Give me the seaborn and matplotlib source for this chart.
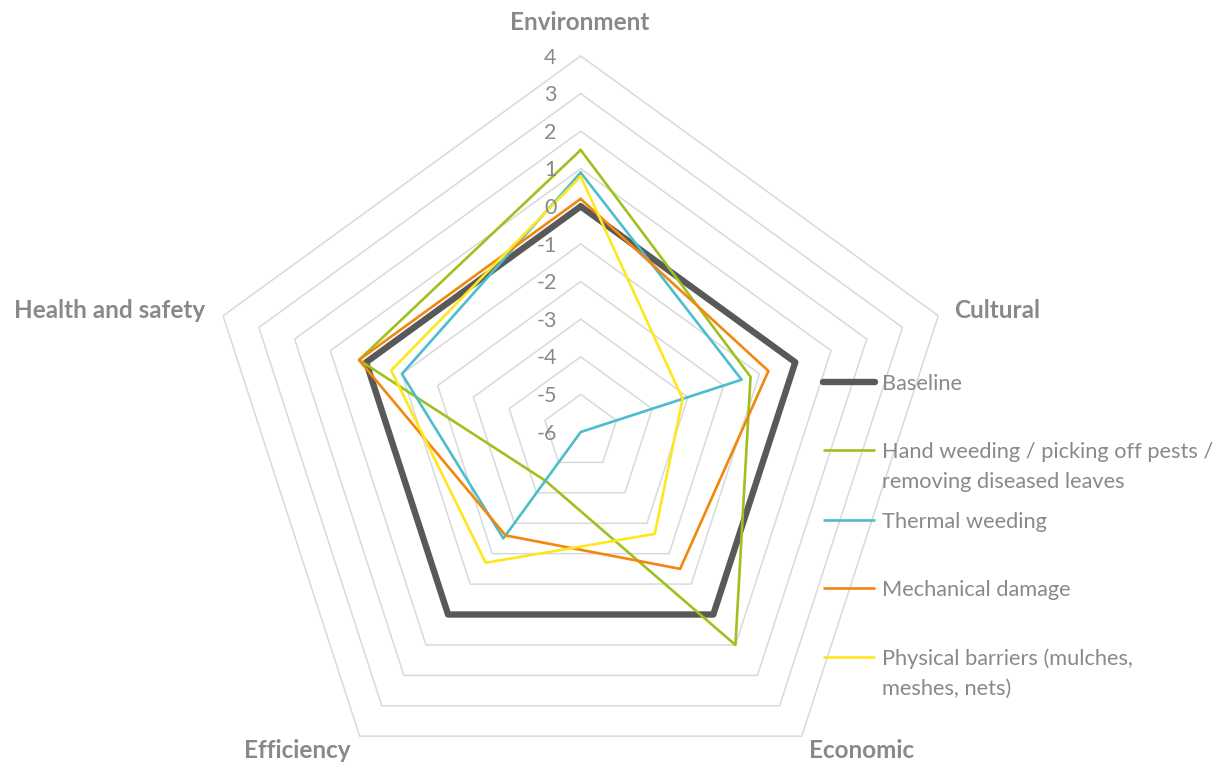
import numpy as np
import pandas as pd
import matplotlib
matplotlib.use("Agg")
import matplotlib.pyplot as plt
import matplotlib.transforms as mtransforms
from matplotlib.lines import Line2D
import seaborn as sns

# ---- data -------------------------------------------------------------
categories = ["Environment", "Cultural", "Economic", "Efficiency", "Health and safety"]
baseline = [0.0, 0.0, 0.0, 0.0, 0.0]
hand_weeding = [1.5, -1.25, 1.0, -4.4, 0.2]
thermal_weeding = [0.9, -1.5, -6.0, -2.5, -1.0]
mechanical_damage = [0.2, -0.75, -1.5, -2.6, 0.2]
physical_barriers = [0.8, -3.15, -2.65, -1.7, -0.7]

series_names = [
    "Baseline",
    "Hand weeding / picking off pests /\nremoving diseased leaves",
    "Thermal weeding",
    "Mechanical damage",
    "Physical barriers (mulches,\nmeshes, nets)",
]
series_values = [baseline, hand_weeding, thermal_weeding, mechanical_damage, physical_barriers]
series_colors = ["#595959", "#9DC21E", "#4DBDCC", "#F2870C", "#FFE61E"]
series_widths = [4.6, 1.9, 1.9, 1.9, 1.9]

tick_values = [4, 3, 2, 1, 0, -1, -2, -3, -4, -5, -6]
r_min, r_max = -6, 4

# ---- figure -----------------------------------------------------------
sns.set_theme(style="white")
plt.rcParams["font.family"] = ["Lato", "DejaVu Sans"]
text_color = "#898989"

W, H = 1224, 762
fig = plt.figure(figsize=(W / 100, H / 100), dpi=100)
fig.patch.set_facecolor("white")

cx, cy, rad = 580.7, 330.0, 376.0  # centre (pixels from bottom-left) and radius
ax = fig.add_axes([(cx - rad) / W, (cy - rad) / H, 2 * rad / W, 2 * rad / H],
                  projection="polar")
ax.set_theta_offset(np.pi / 2)
ax.set_theta_direction(-1)
ax.set_ylim(r_min, r_max)
ax.grid(False)
ax.set_xticks([])
ax.set_yticks([])
ax.spines["polar"].set_visible(False)
ax.patch.set_alpha(0)

n = len(categories)
angles = np.linspace(0, 2 * np.pi, n, endpoint=False)
angles_closed = np.append(angles, angles[0] + 2 * np.pi)

# pentagon gridlines
for v in tick_values[:-1]:
    ax.plot(angles_closed, [v] * (n + 1), color="#D9D9D9", lw=1.1, zorder=1,
            solid_joinstyle="miter")

# series
for name, vals, col, lw in zip(series_names, series_values, series_colors, series_widths):
    df = pd.DataFrame({"angle": angles_closed, "value": list(vals) + [vals[0]]})
    sns.lineplot(data=df, x="angle", y="value", sort=False, estimator=None, ax=ax,
                 color=col, linewidth=lw, zorder=3)
for line in ax.lines:
    line.set_solid_joinstyle("round")
    line.set_clip_on(False)

ax.set_xlabel("")
ax.set_ylabel("")
ax.set_ylim(r_min, r_max)

# value labels along the Environment spoke
off = mtransforms.offset_copy(ax.transData, fig=fig, x=-24, y=-1.5, units="dots")
for v in tick_values:
    ax.text(0, v, str(v), transform=off, ha="right", va="center",
            fontsize=15.5, color=text_color)

# category labels
label_pos = {
    "Environment": (580, 22),
    "Cultural": (997, 310),
    "Economic": (862, 750),
    "Efficiency": (297, 750),
    "Health and safety": (110, 310),
}
for cat in categories:
    x, y = label_pos[cat]
    fig.text(x / W, 1 - y / H, cat, ha="center", va="center", fontsize=17.5,
             fontweight="bold", color=text_color)

# legend
legend_rows = [382, 450, 520, 588, 657]
line_gap = 30
x0, x1, xt = 823, 875, 882
for name, col, lw, yrow in zip(series_names, series_colors, series_widths, legend_rows):
    yy = 1 - yrow / H
    fig.add_artist(Line2D([x0 / W, x1 / W], [yy, yy], color=col, lw=lw,
                          solid_capstyle="round" if lw > 3 else "butt"))
    for i, part in enumerate(name.split("\n")):
        fig.text(xt / W, 1 - (yrow + i * line_gap) / H, part, ha="left",
                 va="center_baseline", fontsize=15.7, color=text_color)

fig.savefig("out.png", dpi=100, facecolor="white")
